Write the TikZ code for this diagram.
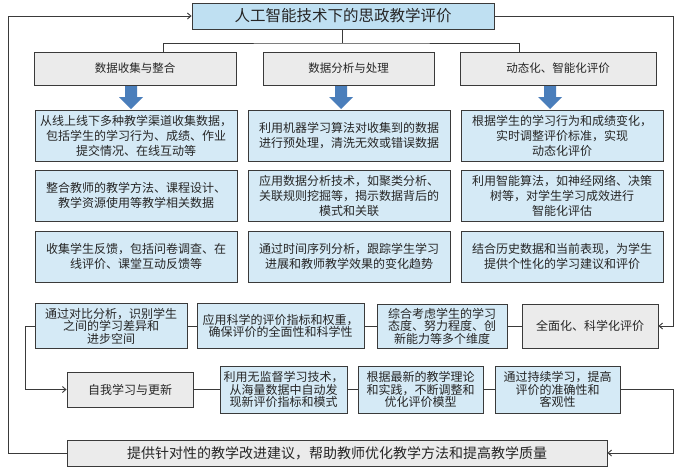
\documentclass[tikz,border=0pt]{standalone}
\usepackage{fontspec}
\newfontfamily\cjk{Noto Sans CJK SC}
\usetikzlibrary{arrows.meta}
\definecolor{bluefill}{HTML}{D5EAF6}
\definecolor{titlefill}{HTML}{BFE0F2}
\definecolor{grayfill}{HTML}{EBEBEB}
\definecolor{edge}{HTML}{3A3A3A}
\definecolor{arrblue}{HTML}{4A7EBB}
\begin{document}
\begin{tikzpicture}[x=1pt,y=-1pt,
  every node/.style={inner sep=0pt, align=center, text=black!85},
  box/.style={draw=edge, line width=0.9pt, font=\cjk\fontsize{12}{15}\selectfont},
  bluebox/.style={box, fill=bluefill},
  graybox/.style={box, fill=grayfill},
  tightbox/.style={font=\cjk\fontsize{12}{12.5}\selectfont},
  conn/.style={draw=edge, line width=0.9pt},
  arr/.style={conn, -{Straight Barb[length=3.5pt,width=6pt]}},
  bigarrow/.style={fill=arrblue, draw=none}
]
\useasboundingbox (0,0) rectangle (685,472);
\fill[white] (0,0) rectangle (685,472);

% title
\node[box, fill=titlefill, minimum width=302pt, minimum height=26pt, font=\cjk\fontsize{15.5}{18}\selectfont] (title) at (343,16) {人工智能技术下的思政教学评价};

% headings
\node[graybox, minimum width=202pt, minimum height=33pt, font=\cjk\fontsize{11.5}{14}\selectfont] (h1) at (135,68.5) {数据收集与整合};
\node[graybox, minimum width=171pt, minimum height=33pt, font=\cjk\fontsize{11.5}{14}\selectfont] (h2) at (348.5,68.5) {数据分析与处理};
\node[graybox, minimum width=196pt, minimum height=33pt, font=\cjk\fontsize{11.5}{14}\selectfont] (h3) at (558,68.5) {动态化、智能化评价};

% tree
\coordinate (tj) at (342,43);
\draw[conn] (title.south -| tj) -- (tj);
\draw[conn] (163,52) |- (tj) -| (519,52);

% big arrows
\foreach \cx in {131,341,550}{
  \fill[bigarrow] (\cx-6,86) -- (\cx+6,86) -- (\cx+6,97) -- (\cx+12,97) -- (\cx,109) -- (\cx-12,97) -- (\cx-6,97) -- cycle;
}

% column boxes
\node[bluebox, minimum width=202pt, minimum height=51pt] (a1) at (136,135.5) {从线上线下多种教学渠道收集数据，\\包括学生的学习行为、成绩、作业\\提交情况、在线互动等};
\node[bluebox, minimum width=202pt, minimum height=51pt] (a2) at (136,195.5) {整合教师的教学方法、课程设计、\\教学资源使用等教学相关数据};
\node[bluebox, minimum width=202pt, minimum height=51pt] (a3) at (136,256.5) {收集学生反馈，包括问卷调查、在\\线评价、课堂互动反馈等};

\node[bluebox, minimum width=202pt, minimum height=51pt] (b1) at (349,135.5) {利用机器学习算法对收集到的数据\\进行预处理，清洗无效或错误数据};
\node[bluebox, minimum width=202pt, minimum height=51pt] (b2) at (349,195.5) {应用数据分析技术，如聚类分析、\\关联规则挖掘等，揭示数据背后的\\模式和关联};
\node[bluebox, minimum width=202pt, minimum height=51pt] (b3) at (349,256.5) {通过时间序列分析，跟踪学生学习\\进展和教师教学效果的变化趋势};

\node[bluebox, minimum width=202pt, minimum height=51pt] (c1) at (562,135.5) {根据学生的学习行为和成绩变化，\\实时调整评价标准，实现\\动态化评价};
\node[bluebox, minimum width=202pt, minimum height=51pt] (c2) at (562,195.5) {利用智能算法，如神经网络、决策\\树等，对学生学习成效进行\\智能化评估};
\node[bluebox, minimum width=202pt, minimum height=51pt] (c3) at (562,256.5) {结合历史数据和当前表现，为学生\\提供个性化的学习建议和评价};

% lower row 1
\node[bluebox, tightbox, minimum width=152pt, minimum height=45pt] (r1) at (111,326) {通过对比分析，识别学生\\之间的学习差异和\\进步空间};
\node[bluebox, tightbox, minimum width=167pt, minimum height=45pt] (r2) at (280.5,326) {应用科学的评价指标和权重，\\确保评价的全面性和科学性};
\node[bluebox, tightbox, minimum width=130pt, minimum height=44pt] (r3) at (442,326) {综合考虑学生的学习\\态度、努力程度、创\\新能力等多个维度};
\node[graybox, minimum width=136pt, minimum height=44pt] (r4) at (590,326) {全面化、科学化评价};

% lower row 2
\node[graybox, minimum width=126pt, minimum height=35pt] (s1) at (130,389.5) {自我学习与更新};
\node[bluebox, tightbox, minimum width=127pt, minimum height=47pt] (s2) at (283.5,389.5) {利用无监督学习技术，\\从海量数据中自动发\\现新评价指标和模式};
\node[bluebox, tightbox, minimum width=125pt, minimum height=47pt] (s3) at (420.5,389.5) {根据最新的教学理论\\和实践，不断调整和\\优化评价模型};
\node[bluebox, tightbox, minimum width=125pt, minimum height=47pt] (s4) at (557.5,389.5) {通过持续学习，提高\\评价的准确性和\\客观性};

% bottom
\node[graybox, minimum width=540pt, minimum height=26pt, font=\cjk\fontsize{14}{16}\selectfont] (bot) at (337,453) {提供针对性的教学改进建议，帮助教师优化教学方法和提高教学质量};

% connectors
\draw[conn] (r1.east) -- (r2.west);
\draw[conn] (r2.east) -- (r3.west);
\draw[conn] (r3.east) -- (r4.west);
\draw[conn] (s1.east) -- (s2.west);
\draw[conn] (s2.east) -- (s3.west);
\draw[conn] (s3.east) -- (s4.west);

\coordinate (lx) at (25,0);
\draw[arr] (r1.west) -- (r1.west -| lx) |- (s1.west);

\coordinate (rx) at (673,0);
\draw[arr] (title.east) -- (title.east -| rx) |- (r4.east);
\draw[arr] (s4.east) -- (s4.east -| rx) |- (bot.east);

\coordinate (ox) at (8,0);
\draw[arr] (bot.west) -- (bot.west -| ox) |- (title.west);

\end{tikzpicture}
\end{document}
